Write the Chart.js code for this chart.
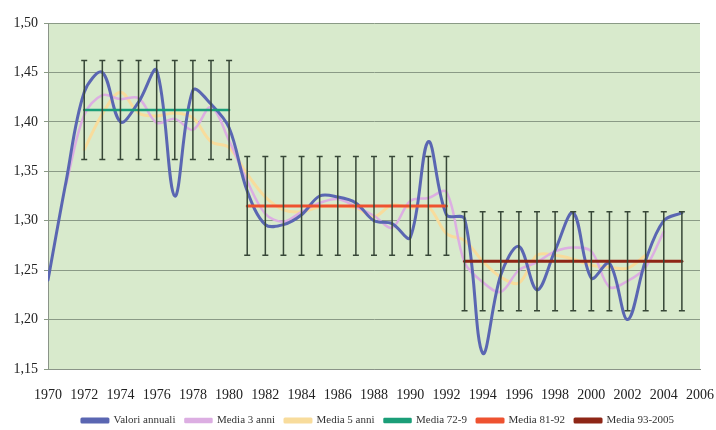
<!DOCTYPE html>
<html>
<head>
<meta charset="utf-8">
<script src="https://cdn.jsdelivr.net/npm/chart.js@4/dist/chart.umd.min.js"></script>
<style>
html,body{margin:0;padding:0;background:#ffffff;}
#wrap{width:716px;height:430px;position:relative;}
</style>
</head>
<body>
<div id="wrap"><canvas id="c" width="716" height="430"></canvas></div>
<script>
// ---- categories ----
const years = [1970,1971,1972,1973,1974,1975,1976,1977,1978,1979,1980,1981,1982,1983,1984,1985,1986,1987,1988,1989,1990,1991,1992,1993,1994,1995,1996,1997,1998,1999,2000,2001,2002,2003,2004,2005];

// ---- series values ----
const valoriAnnuali = [1.240,1.340,1.430,1.450,1.400,1.420,1.452,1.325,1.432,1.418,1.394,1.330,1.296,1.296,1.306,1.325,1.324,1.318,1.300,1.297,1.283,1.380,1.306,1.302,1.166,1.245,1.274,1.230,1.270,1.308,1.242,1.257,1.200,1.260,1.300,1.308];

const media3Years = [1971,1972,1973,1974,1975,1976,1977,1978,1979,1980,1981,1982,1983,1984,1985,1986,1987,1988,1989,1990,1991,1992,1993,1994,1995,1996,1997,1998,1999,2000,2001,2002,2003,2004];
const media3 = [1.337,1.407,1.427,1.423,1.424,1.399,1.403,1.392,1.415,1.381,1.340,1.307,1.299,1.309,1.318,1.322,1.314,1.305,1.293,1.320,1.323,1.329,1.258,1.238,1.228,1.250,1.258,1.269,1.273,1.269,1.233,1.239,1.253,1.289];

const media5Years = [1972,1973,1974,1975,1976,1977,1978,1979,1980,1981,1982,1983,1984,1985,1986,1987,1988,1989,1990,1991,1992,1993,1994,1995,1996,1997,1998,1999,2000,2001,2002,2003];
const media5 = [1.372,1.408,1.430,1.409,1.406,1.409,1.404,1.380,1.374,1.347,1.324,1.311,1.309,1.314,1.315,1.313,1.304,1.316,1.313,1.314,1.287,1.280,1.259,1.243,1.237,1.265,1.265,1.261,1.255,1.253,1.252,1.265];

// period means (with error bars of +/- errorHalf)
const period1 = [1972, 1980]; const mean1 = 1.412;
const period2 = [1981, 1992]; const mean2 = 1.315;
const period3 = [1993, 2005]; const mean3 = 1.259;
const errorHalf = 0.05;

// ---- tick labels ----
const xTickLabels = [1970,1972,1974,1976,1978,1980,1982,1984,1986,1988,1990,1992,1994,1996,1998,2000,2002,2004,2006];
const yTickLabels = [1.15,1.20,1.25,1.30,1.35,1.40,1.45,1.50];

const seriesNames = ['Valori annuali','Media 3 anni','Media 5 anni','Media 72-9','Media 81-92','Media 93-2005'];

function pts(xs, ys){ return xs.map((x,i)=>({x:x, y:ys[i]})); }
function meanPts(p, m){ return years.filter(y=>y>=p[0] && y<=p[1]).map(y=>({x:y, y:m})); }

const SERIF = '"Liberation Serif","Times New Roman",serif';

const plotBg = {
  id:'plotBg',
  beforeDraw(chart){
    const a = chart.chartArea, ctx = chart.ctx;
    ctx.save();
    ctx.fillStyle = '#d8eacc';
    ctx.fillRect(a.left, a.top, a.right-a.left, a.bottom-a.top);
    ctx.restore();
  }
};

const errorBars = {
  id:'errorBars',
  afterDatasetsDraw(chart){
    const ctx = chart.ctx, ys = chart.scales.y;
    ctx.save();
    ctx.strokeStyle = '#374737';
    ctx.lineWidth = 1.5;
    [3,4,5].forEach(di=>{
      const meta = chart.getDatasetMeta(di);
      const ds = chart.data.datasets[di];
      meta.data.forEach((el,i)=>{
        const v = ds.data[i].y;
        const x = el.x;
        const t = ys.getPixelForValue(v + errorHalf);
        const b = ys.getPixelForValue(v - errorHalf);
        ctx.beginPath();
        ctx.moveTo(x, t); ctx.lineTo(x, b);
        ctx.moveTo(x-3, t); ctx.lineTo(x+3, t);
        ctx.moveTo(x-3, b); ctx.lineTo(x+3, b);
        ctx.stroke();
      });
    });
    ctx.restore();
  }
};

const legendShift = {
  id:'legendShift',
  afterLayout(chart){
    const lg = chart.legend;
    if(lg){ lg.left += 20; lg.right += 20; lg.top += 6; lg.bottom += 6; }
  }
};

const lineBase = {fill:false, pointRadius:0, pointHoverRadius:0, borderCapStyle:'round', borderJoinStyle:'round'};

new Chart(document.getElementById('c'), {
  type:'line',
  data:{
    datasets:[
      Object.assign({}, lineBase, {label:seriesNames[0], data:pts(years, valoriAnnuali), borderColor:'#5a66b2', backgroundColor:'#5a66b2', borderWidth:3, tension:0.35, order:2}),
      Object.assign({}, lineBase, {label:seriesNames[1], data:pts(media3Years, media3), borderColor:'#dcaee2', backgroundColor:'#dcaee2', borderWidth:2.5, tension:0.35, order:3}),
      Object.assign({}, lineBase, {label:seriesNames[2], data:pts(media5Years, media5), borderColor:'#f8dc9c', backgroundColor:'#f8dc9c', borderWidth:3, tension:0.35, order:4}),
      Object.assign({}, lineBase, {label:seriesNames[3], data:meanPts(period1, mean1), borderColor:'#1b9e78', backgroundColor:'#1b9e78', borderWidth:2.5, tension:0, order:1}),
      Object.assign({}, lineBase, {label:seriesNames[4], data:meanPts(period2, mean2), borderColor:'#ee5230', backgroundColor:'#f28a72', borderWidth:3, tension:0, order:1}),
      Object.assign({}, lineBase, {label:seriesNames[5], data:meanPts(period3, mean3), borderColor:'#8e2616', backgroundColor:'#8e2616', borderWidth:3, tension:0, order:1})
    ]
  },
  options:{
    responsive:false,
    animation:false,
    events:[],
    layout:{padding:{left:0,right:0,top:23,bottom:0}},
    plugins:{
      legend:{
        position:'bottom',
        labels:{
          boxWidth:26, boxHeight:3, padding:10,
          color:'#333',
          font:{family:SERIF, size:11},
          sort:(a,b)=>a.datasetIndex-b.datasetIndex
        }
      },
      tooltip:{enabled:false}
    },
    scales:{
      x:{
        type:'linear', min:1970, max:2006,
        afterBuildTicks(s){ s.ticks = xTickLabels.map(v=>({value:v})); },
        afterFit(s){ s.height = 30; s.paddingLeft = 0; s.paddingRight = 16; },
        grid:{display:false, drawTicks:false},
        border:{display:true, color:'#8a9488', width:1},
        ticks:{color:'#222', font:{family:SERIF, size:14}, padding:18, maxRotation:0, autoSkip:false, callback:(v)=>String(v)}
      },
      y:{
        min:1.15, max:1.50,
        afterBuildTicks(s){ s.ticks = yTickLabels.map(v=>({value:v})); },
        afterFit(s){ s.width = 48; },
        grid:{color:'#8a9a86', lineWidth:1, drawTicks:true, tickLength:4},
        border:{display:true, color:'#8a9488', width:1},
        ticks:{color:'#222', font:{family:SERIF, size:14}, padding:6, callback:(v)=>Number(v).toFixed(2).replace('.',',')}
      }
    }
  },
  plugins:[plotBg, errorBars, legendShift]
});
</script>
</body>
</html>
